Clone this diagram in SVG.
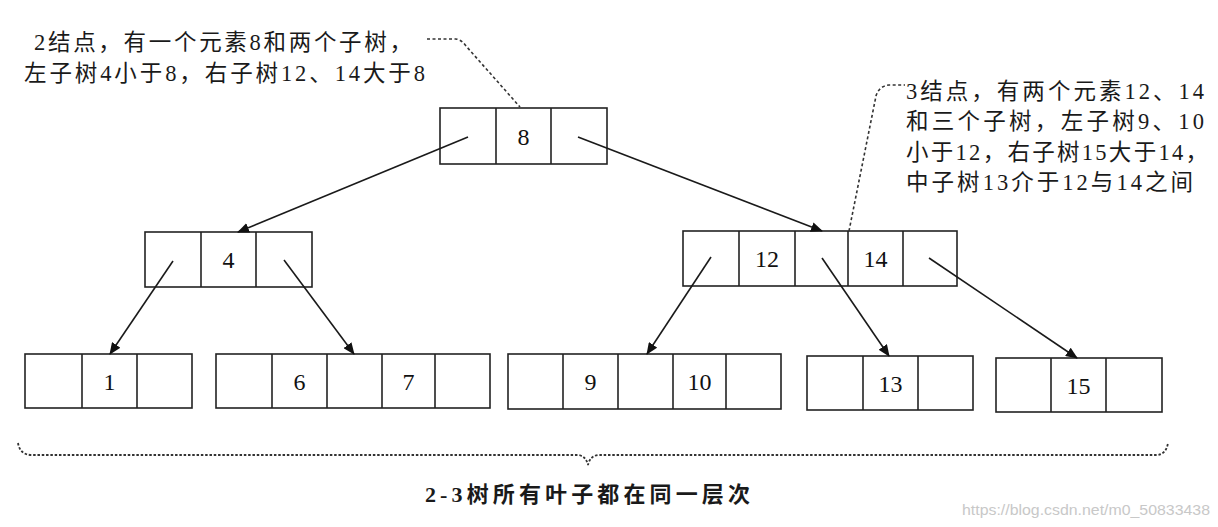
<svg xmlns="http://www.w3.org/2000/svg" width="1218" height="527" viewBox="0 0 1218 527">
<style>
.cell{fill:#fff;stroke:#222;stroke-width:1.6}
.num{font-family:"Liberation Serif","Noto Sans CJK SC",serif;font-size:24px;fill:#111;text-anchor:middle}
.note{font-family:"Liberation Serif","Noto Sans CJK SC",serif;font-size:22.5px;fill:#1a1a1a}
.edge{stroke:#1a1a1a;stroke-width:1.6;fill:none}
.dash{stroke:#333;stroke-width:1.6;fill:none;stroke-dasharray:3 2.5}
.brace{stroke:#333;stroke-width:1.8;fill:none;stroke-dasharray:2.5 1.8}
.wm{font-family:"Liberation Sans",sans-serif;font-size:14px;fill:#c8c8c8}
</style>
<defs>
<marker id="ah" viewBox="0 0 12 10" refX="11" refY="5" markerWidth="12" markerHeight="10" markerUnits="userSpaceOnUse" orient="auto">
<path d="M0,0 L12,5 L0,10 Z" fill="#111"/>
</marker>
</defs>
<rect width="1218" height="527" fill="#fff"/>

<g id="node-8">
<rect class="cell" x="440" y="108" width="167" height="56"/>
<line class="cell" x1="496" y1="108" x2="496" y2="164"/>
<line class="cell" x1="551" y1="108" x2="551" y2="164"/>
<text class="num" x="523.5" y="145">8</text>
</g>

<g id="node-4">
<rect class="cell" x="145" y="232" width="167" height="55"/>
<line class="cell" x1="201" y1="232" x2="201" y2="287"/>
<line class="cell" x1="256" y1="232" x2="256" y2="287"/>
<text class="num" x="228.5" y="268">4</text>
</g>

<g id="node-12-14">
<rect class="cell" x="683" y="231" width="274" height="55"/>
<line class="cell" x1="739" y1="231" x2="739" y2="286"/>
<line class="cell" x1="795" y1="231" x2="795" y2="286"/>
<line class="cell" x1="848" y1="231" x2="848" y2="286"/>
<line class="cell" x1="903" y1="231" x2="903" y2="286"/>
<text class="num" x="767" y="267">12</text>
<text class="num" x="875.5" y="267">14</text>
</g>

<g id="leaf-1">
<rect class="cell" x="25" y="354" width="167" height="54"/>
<line class="cell" x1="82" y1="354" x2="82" y2="408"/>
<line class="cell" x1="137" y1="354" x2="137" y2="408"/>
<text class="num" x="109.5" y="390">1</text>
</g>

<g id="leaf-6-7">
<rect class="cell" x="216" y="354" width="274" height="54"/>
<line class="cell" x1="272" y1="354" x2="272" y2="408"/>
<line class="cell" x1="327" y1="354" x2="327" y2="408"/>
<line class="cell" x1="382" y1="354" x2="382" y2="408"/>
<line class="cell" x1="435" y1="354" x2="435" y2="408"/>
<text class="num" x="299.5" y="390">6</text>
<text class="num" x="408.5" y="390">7</text>
</g>

<g id="leaf-9-10">
<rect class="cell" x="508" y="354" width="273" height="55"/>
<line class="cell" x1="563" y1="354" x2="563" y2="409"/>
<line class="cell" x1="618" y1="354" x2="618" y2="409"/>
<line class="cell" x1="673" y1="354" x2="673" y2="409"/>
<line class="cell" x1="726" y1="354" x2="726" y2="409"/>
<text class="num" x="590.5" y="390">9</text>
<text class="num" x="699.5" y="390">10</text>
</g>

<g id="leaf-13">
<rect class="cell" x="807" y="356" width="166" height="54"/>
<line class="cell" x1="863" y1="356" x2="863" y2="410"/>
<line class="cell" x1="918" y1="356" x2="918" y2="410"/>
<text class="num" x="890.5" y="392">13</text>
</g>

<g id="leaf-15">
<rect class="cell" x="996" y="358" width="166" height="54"/>
<line class="cell" x1="1051" y1="358" x2="1051" y2="412"/>
<line class="cell" x1="1106" y1="358" x2="1106" y2="412"/>
<text class="num" x="1078.5" y="394">15</text>
</g>

<g id="connectors">
<line class="edge" x1="468" y1="137" x2="238" y2="232" marker-end="url(#ah)"/>
<line class="edge" x1="578" y1="137" x2="822" y2="231" marker-end="url(#ah)"/>
<line class="edge" x1="173" y1="261" x2="110" y2="354" marker-end="url(#ah)"/>
<line class="edge" x1="284" y1="260" x2="354" y2="354" marker-end="url(#ah)"/>
<line class="edge" x1="711" y1="257" x2="647" y2="354" marker-end="url(#ah)"/>
<line class="edge" x1="822" y1="258" x2="889" y2="356" marker-end="url(#ah)"/>
<line class="edge" x1="929" y1="258" x2="1077" y2="358" marker-end="url(#ah)"/>
</g>

<g id="note-2node">
<text class="note" x="34" y="50" textLength="378" lengthAdjust="spacing">2结点，有一个元素8和两个子树，</text>
<text class="note" x="24" y="81" textLength="401" lengthAdjust="spacing">左子树4小于8，右子树12、14大于8</text>
<path class="dash" d="M427,39 L456,39 Q462,40 466,46 L520,107"/>
</g>

<g id="note-3node">
<text class="note" x="906" y="99" textLength="298" lengthAdjust="spacing">3结点，有两个元素12、14</text>
<text class="note" x="906" y="129" textLength="298" lengthAdjust="spacing">和三个子树，左子树9、10</text>
<text class="note" x="906" y="160" textLength="302" lengthAdjust="spacing">小于12，右子树15大于14，</text>
<text class="note" x="906" y="190" textLength="287" lengthAdjust="spacing">中子树13介于12与14之间</text>
<path class="dash" d="M849,231 L876,96 Q879,86 889,85 L905,85"/>
</g>

<g id="brace">
<path class="brace" d="M18,443 Q20,455 32,455 L578,455 Q586,456 588,465 Q590,456 598,455 L1156,455 Q1166,455 1168,443"/>
<text class="note" x="425" y="502" textLength="325" lengthAdjust="spacing" style="font-weight:bold;font-size:22px">2-3树所有叶子都在同一层次</text>
</g>

<text class="wm" x="962" y="515" textLength="248" lengthAdjust="spacingAndGlyphs">https://blog.csdn.net/m0_50833438</text>
</svg>
